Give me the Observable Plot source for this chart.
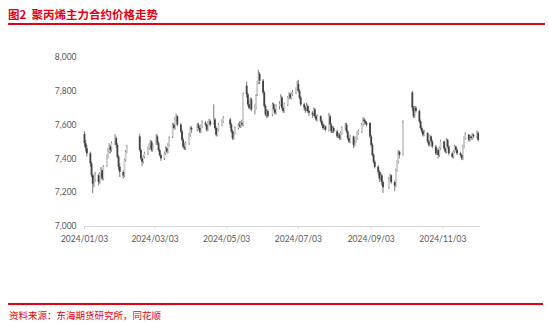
<!DOCTYPE html>
<html><head><meta charset="utf-8">
<script src="https://cdn.jsdelivr.net/npm/d3@7"></script>
<script src="https://cdn.jsdelivr.net/npm/@observablehq/plot@0.6"></script>
<style>
body{margin:0;background:#fff;}
#wrap{position:relative;width:550px;height:324px;overflow:hidden;background:#fff;}
#title{position:absolute;left:8px;top:6px;font:bold 11.5px "Noto Sans CJK SC",sans-serif;color:#e60012;white-space:pre;}
#topline{position:absolute;left:8px;top:23px;width:537px;height:2px;background:#e60012;}
#botline{position:absolute;left:8px;top:303px;width:535px;height:1.5px;background:#e60012;}
#source{position:absolute;left:9px;top:308px;font:9.5px "Noto Sans CJK SC",sans-serif;color:#e60012;}
#chart{position:absolute;left:0;top:0;}
</style></head>
<body>
<div id="wrap">
<div id="chart"></div>
<div id="title">图2  聚丙烯主力合约价格走势</div>
<div id="topline"></div>
<div id="botline"></div>
<div id="source">资料来源：东海期货研究所，同花顺</div>
</div>
<script>
const dates = [
"2024-01-03","2024-01-04","2024-01-05","2024-01-08","2024-01-09","2024-01-10","2024-01-11","2024-01-12","2024-01-15","2024-01-16","2024-01-17","2024-01-18","2024-01-19","2024-01-22","2024-01-23","2024-01-24","2024-01-25","2024-01-26","2024-01-29","2024-01-30","2024-01-31",
"2024-02-01","2024-02-02","2024-02-05","2024-02-06","2024-02-07","2024-02-08","2024-02-19","2024-02-20","2024-02-21","2024-02-22","2024-02-23","2024-02-26","2024-02-27","2024-02-28","2024-02-29",
"2024-03-01","2024-03-04","2024-03-05","2024-03-06","2024-03-07","2024-03-08","2024-03-11","2024-03-12","2024-03-13","2024-03-14","2024-03-15","2024-03-18","2024-03-19","2024-03-20","2024-03-21","2024-03-22","2024-03-25","2024-03-26","2024-03-27","2024-03-28","2024-03-29",
"2024-04-01","2024-04-02","2024-04-03","2024-04-08","2024-04-09","2024-04-10","2024-04-11","2024-04-12","2024-04-15","2024-04-16","2024-04-17","2024-04-18","2024-04-19","2024-04-22","2024-04-23","2024-04-24","2024-04-25","2024-04-26","2024-04-29","2024-04-30",
"2024-05-06","2024-05-07","2024-05-08","2024-05-09","2024-05-10","2024-05-13","2024-05-14","2024-05-15","2024-05-16","2024-05-17","2024-05-20","2024-05-21","2024-05-22","2024-05-23","2024-05-24","2024-05-27","2024-05-28","2024-05-29","2024-05-30","2024-05-31",
"2024-06-03","2024-06-04","2024-06-05","2024-06-06","2024-06-07","2024-06-11","2024-06-12","2024-06-13","2024-06-14","2024-06-17","2024-06-18","2024-06-19","2024-06-20","2024-06-21","2024-06-24","2024-06-25","2024-06-26","2024-06-27","2024-06-28",
"2024-07-01","2024-07-02","2024-07-03","2024-07-04","2024-07-05","2024-07-08","2024-07-09","2024-07-10","2024-07-11","2024-07-12","2024-07-15","2024-07-16","2024-07-17","2024-07-18","2024-07-19","2024-07-22","2024-07-23","2024-07-24","2024-07-25","2024-07-26","2024-07-29","2024-07-30","2024-07-31",
"2024-08-01","2024-08-02","2024-08-05","2024-08-06","2024-08-07","2024-08-08","2024-08-09","2024-08-12","2024-08-13","2024-08-14","2024-08-15","2024-08-16","2024-08-19","2024-08-20","2024-08-21","2024-08-22","2024-08-23","2024-08-26","2024-08-27","2024-08-28","2024-08-29","2024-08-30",
"2024-09-02","2024-09-03","2024-09-04","2024-09-05","2024-09-06","2024-09-09","2024-09-10","2024-09-11","2024-09-12","2024-09-13","2024-09-18","2024-09-19","2024-09-20","2024-09-23","2024-09-24","2024-09-25","2024-09-26","2024-09-27","2024-09-30",
"2024-10-08","2024-10-09","2024-10-10","2024-10-11","2024-10-14","2024-10-15","2024-10-16","2024-10-17","2024-10-18","2024-10-21","2024-10-22","2024-10-23","2024-10-24","2024-10-25","2024-10-28","2024-10-29","2024-10-30","2024-10-31",
"2024-11-01","2024-11-04","2024-11-05","2024-11-06","2024-11-07","2024-11-08","2024-11-11","2024-11-12","2024-11-13","2024-11-14","2024-11-15","2024-11-18","2024-11-19","2024-11-20","2024-11-21","2024-11-22","2024-11-25","2024-11-26","2024-11-27","2024-11-28","2024-11-29",
"2024-12-02","2024-12-03"
];
const open = [
7545,7490,7460,7430,7370,7300,7250,7280,7300,7260,7310,7330,7280,7360,7410,7440,7470,7450,7500,7520,7480,
7410,7350,7320,7300,7390,7440,7530,7450,7400,7380,7410,7430,7460,7480,7500,
7450,7490,7530,7490,7450,7420,7400,7430,7460,7440,7480,7530,7600,7580,7630,7650,7600,7560,7510,7470,7460,
7490,7540,7580,7570,7600,7580,7560,7590,7610,7600,7570,7610,7620,7610,7630,7580,7540,7570,7600,7620,
7630,7600,7560,7520,7550,7580,7600,7590,7610,7600,7830,7780,7720,7700,7750,7690,7700,7780,7850,7900,
7860,7790,7710,7660,7680,7660,7720,7690,7670,7710,7720,7760,7700,7680,7720,7760,7780,7760,7780,
7790,7810,7840,7800,7760,7720,7700,7690,7710,7680,7670,7660,7690,7650,7630,7650,7620,7600,7580,7590,7570,7650,7600,
7560,7580,7560,7530,7540,7520,7550,7580,7600,7560,7520,7500,7530,7480,7500,7520,7550,7560,7600,7630,7620,7610,
7610,7530,7480,7420,7380,7350,7320,7280,7300,7260,7230,7280,7300,7260,7240,7330,7380,7440,7420,
7790,7700,7650,7700,7680,7620,7580,7560,7540,7550,7500,7480,7530,7500,7470,7430,7450,7420,
7460,7500,7460,7440,7510,7470,7430,7410,7440,7470,7450,7430,7420,7400,7470,7520,7540,7510,7530,7520,7540,
7530,7550
];
const high = [
7560,7510,7480,7440,7380,7310,7300,7320,7310,7320,7350,7340,7360,7420,7460,7490,7480,7500,7545,7530,7490,
7420,7370,7330,7400,7450,7480,7545,7460,7410,7420,7440,7470,7490,7510,7505,
7490,7545,7540,7500,7460,7430,7440,7470,7470,7490,7530,7610,7610,7645,7665,7655,7610,7570,7520,7490,7500,
7550,7590,7590,7610,7610,7590,7600,7625,7620,7605,7620,7635,7630,7720,7640,7590,7580,7610,7630,7650,
7640,7610,7570,7560,7590,7610,7620,7620,7630,7790,7855,7790,7740,7760,7760,7720,7780,7860,7925,7910,
7870,7800,7720,7690,7690,7730,7730,7700,7720,7740,7780,7770,7710,7730,7770,7790,7790,7790,7805,
7820,7860,7865,7810,7770,7730,7710,7730,7720,7690,7680,7700,7700,7660,7660,7655,7630,7610,7600,7595,7670,7660,7610,
7590,7590,7570,7550,7550,7560,7590,7610,7610,7570,7530,7540,7535,7510,7530,7560,7570,7610,7645,7640,7630,7620,
7615,7540,7490,7430,7390,7360,7330,7320,7310,7270,7290,7310,7305,7270,7340,7390,7450,7445,7625,
7800,7710,7710,7710,7690,7630,7590,7570,7570,7555,7510,7540,7535,7510,7480,7460,7460,7470,
7510,7505,7470,7520,7515,7480,7440,7450,7480,7475,7460,7440,7425,7480,7530,7555,7545,7540,7535,7550,7545,
7565,7560
];
const low = [
7470,7440,7410,7350,7290,7195,7230,7260,7240,7250,7290,7270,7270,7350,7400,7430,7430,7440,7480,7460,7400,
7330,7290,7280,7290,7380,7430,7440,7390,7355,7370,7400,7420,7450,7460,7440,
7440,7480,7480,7440,7410,7385,7390,7420,7430,7430,7470,7520,7570,7570,7620,7590,7550,7500,7460,7450,7450,
7480,7530,7550,7560,7570,7550,7550,7580,7590,7560,7560,7600,7590,7600,7570,7530,7530,7560,7590,7610,
7580,7550,7510,7510,7540,7570,7580,7580,7590,7590,7760,7710,7690,7690,7680,7660,7690,7770,7840,7840,
7780,7700,7650,7640,7640,7650,7680,7660,7660,7690,7710,7690,7670,7670,7710,7750,7750,7750,7770,
7780,7800,7790,7750,7710,7680,7670,7680,7670,7650,7640,7650,7640,7620,7620,7610,7590,7570,7570,7560,7560,7590,7550,
7550,7550,7520,7520,7510,7510,7540,7570,7550,7510,7490,7490,7460,7470,7490,7510,7540,7550,7590,7600,7600,7590,
7520,7470,7410,7370,7340,7300,7260,7270,7240,7195,7220,7270,7250,7205,7230,7320,7370,7400,7415,
7680,7640,7640,7670,7610,7570,7550,7530,7530,7490,7470,7470,7490,7460,7420,7420,7400,7410,
7450,7450,7430,7430,7460,7420,7400,7400,7430,7440,7420,7410,7390,7390,7460,7510,7500,7500,7510,7510,7520,
7520,7500
];
const close = [
7490,7460,7430,7370,7300,7250,7280,7300,7260,7310,7330,7280,7350,7410,7440,7470,7450,7490,7520,7480,7410,
7350,7320,7300,7390,7440,7470,7450,7400,7380,7410,7430,7460,7480,7500,7450,
7480,7530,7490,7450,7420,7400,7430,7460,7440,7480,7520,7600,7580,7630,7650,7600,7560,7510,7470,7460,7490,
7540,7580,7570,7600,7580,7560,7590,7610,7600,7570,7610,7620,7600,7630,7580,7540,7570,7600,7620,7640,
7600,7560,7520,7550,7580,7600,7590,7610,7600,7780,7780,7720,7700,7750,7690,7700,7770,7850,7900,7860,
7790,7710,7660,7680,7650,7720,7690,7670,7710,7720,7760,7700,7680,7720,7760,7780,7760,7780,7790,
7810,7840,7800,7760,7720,7700,7690,7710,7680,7670,7660,7690,7650,7630,7650,7620,7600,7580,7590,7570,7650,7600,7560,
7580,7560,7530,7540,7520,7550,7580,7600,7560,7520,7500,7530,7480,7500,7520,7550,7560,7600,7630,7620,7610,7600,
7530,7480,7420,7380,7350,7320,7280,7300,7260,7230,7280,7300,7260,7240,7330,7380,7440,7420,7610,
7700,7650,7700,7680,7620,7580,7560,7540,7550,7500,7480,7530,7500,7470,7430,7450,7420,7460,
7500,7460,7440,7510,7470,7430,7410,7440,7470,7450,7430,7420,7400,7470,7520,7540,7510,7530,7520,7540,7530,
7550,7510
];
const xTicks = ["2024-01-03","2024-03-03","2024-05-03","2024-07-03","2024-09-03","2024-11-03"];
const xDomain = ["2024-01-03","2024-12-05"];
const yTicks = [7000,7200,7400,7600,7800,8000];

const parse = d3.utcParse("%Y-%m-%d");
const data = dates.map((d,i)=>({date: parse(d), open: open[i], high: high[i], low: low[i], close: close[i]}));
const up = data.filter(d => d.close >= d.open);
const down = data.filter(d => d.close < d.open);

const chart = Plot.plot({
  width: 550, height: 324,
  marginLeft: 84, marginRight: 70, marginTop: 57, marginBottom: 98,
  style: {fontFamily: "Lato, 'Open Sans', sans-serif", fontSize: "8.5px", color: "#595959", background: "transparent"},
  x: {type: "utc", domain: xDomain.map(parse)},
  y: {domain: [7000, 8000]},
  marks: [
    Plot.axisY({ticks: yTicks, tickFormat: d3.format(","), tickSize: 0, tickPadding: 8, label: null, fill: "#595959"}),
    Plot.axisX({ticks: xTicks.map(parse), tickFormat: d3.utcFormat("%Y/%m/%d"), tickSize: 3, tickPadding: 6, label: null, stroke: "#d9d9d9", fill: "#595959"}),
    Plot.ruleY([7000], {stroke: "#d9d9d9", strokeWidth: 1}),
    Plot.ruleX(data, {x: "date", y1: "low", y2: "high", stroke: "#595959", strokeWidth: 0.8}),
    Plot.ruleX(up, {x: "date", y1: "open", y2: "close", stroke: "#cfcfcf", strokeWidth: 1.8}),
    Plot.ruleX(down, {x: "date", y1: "open", y2: "close", stroke: "#404040", strokeWidth: 1.8})
  ]
});
document.getElementById("chart").appendChild(chart);
</script>
</body></html>
